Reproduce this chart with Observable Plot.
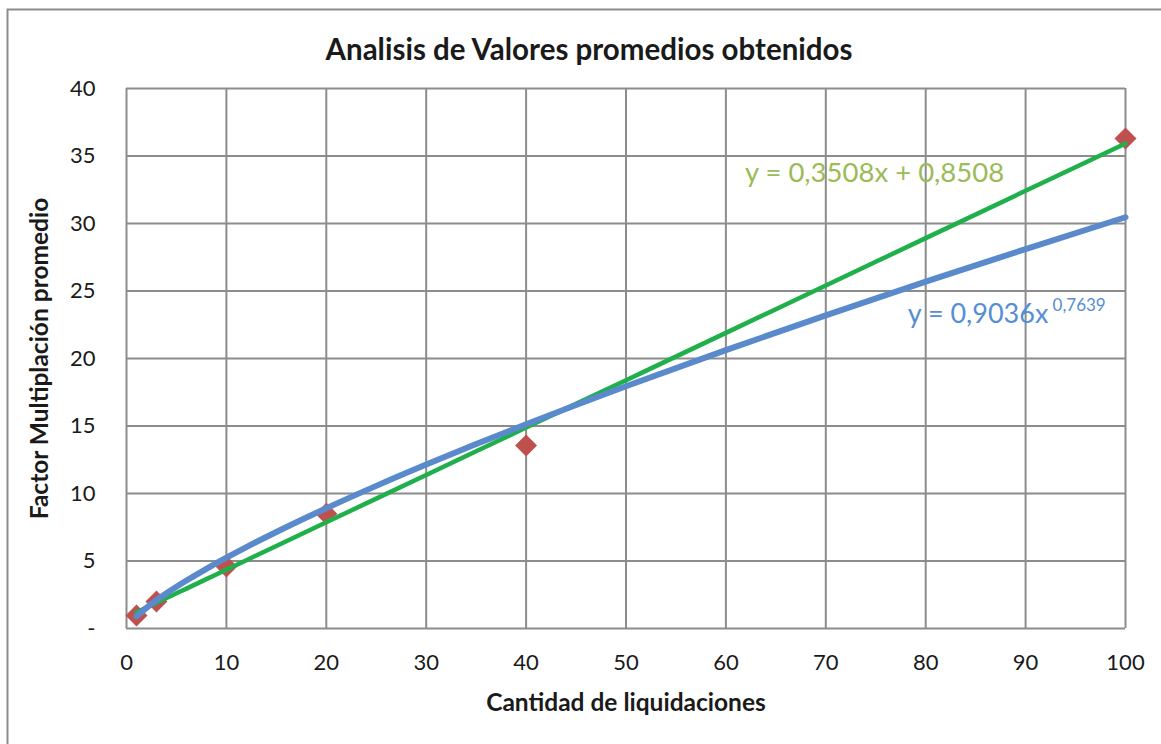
<!DOCTYPE html>
<html>
<head>
<meta charset="utf-8">
<script src="https://cdn.jsdelivr.net/npm/d3@7"></script>
<script src="https://cdn.jsdelivr.net/npm/@observablehq/plot@0.6"></script>
<style>
  html, body { margin: 0; padding: 0; background: #fff; }
  #chart { width: 1161px; height: 744px; overflow: hidden; }
</style>
</head>
<body>
<div id="chart"></div>
<script>
// ---- data ----
const liquidaciones = [1, 3, 10, 20, 40, 100];
const factorPromedio = [0.96, 2.0, 4.6, 8.5, 13.55, 36.3];

// trendline coefficients as printed on the chart
const linearCoef = [0.3508, 0.8508];      // y = a·x + b
const powerCoef = [0.9036, 0.7639];       // y = a·x^b
const trendX = [1, 2, 3, 4, 5, 6, 8, 10, 12, 15, 20, 25, 30, 35, 40, 45, 50, 60, 70, 80, 90, 100];

const xTicks = [0, 10, 20, 30, 40, 50, 60, 70, 80, 90, 100];
const yTicks = [0, 5, 10, 15, 20, 25, 30, 35, 40];
const yTickLabels = ["-", "5", "10", "15", "20", "25", "30", "35", "40"];

const titleText = "Analisis de Valores promedios obtenidos";
const xTitle = "Cantidad de liquidaciones";
const yTitle = "Factor Multiplación promedio";
const linearLabel = "y = 0,3508x + 0,8508";
const powerLabel = "y = 0,9036x";
const powerExp = "0,7639";

// ---- derived tables ----
const points = liquidaciones.map((x, i) => ({x, y: factorPromedio[i]}));
const linearLine = trendX.map(x => ({x, y: linearCoef[0] * x + linearCoef[1]}));
const powerLine = trendX.map(x => ({x, y: powerCoef[0] * Math.pow(x, powerCoef[1])}));

const gridColor = "#8c8c8c";
const font = "Lato, 'Open Sans', sans-serif";

const chart = Plot.plot({
  width: 1161,
  height: 744,
  marginLeft: 126,
  marginRight: 36,
  marginTop: 88,
  marginBottom: 116,
  style: {fontFamily: font, fontSize: "22px", color: "#1a1a1a", background: "#fff"},
  x: {domain: [0, 100], ticks: xTicks},
  y: {domain: [0, 40], ticks: yTicks},
  marks: [
    Plot.gridX(xTicks, {stroke: gridColor, strokeOpacity: 1, strokeWidth: 2}),
    Plot.gridY(yTicks, {stroke: gridColor, strokeOpacity: 1, strokeWidth: 2}),
    Plot.axisX(xTicks, {tickSize: 0, tickPadding: 26, fontSize: 22, label: null}),
    Plot.axisY(yTicks, {tickSize: 0, tickPadding: 31, fontSize: 22, label: null,
      tickFormat: d => yTickLabels[yTicks.indexOf(d)]}),
    Plot.dot(points, {x: "x", y: "y", symbol: "diamond2", r: 9.9, fill: "#c0504d", stroke: "none"}),
    Plot.line(linearLine, {x: "x", y: "y", stroke: "#1fb04b", strokeWidth: 4.5, curve: "monotone-x"}),
    Plot.line(powerLine, {x: "x", y: "y", stroke: "#5a8acb", strokeWidth: 6, curve: "monotone-x"}),
    Plot.text([linearLabel], {x: 61.9, y: 33.7, textAnchor: "start", fill: "#9bbb59", fontSize: 27.5}),
    Plot.text([powerLabel], {x: 78.2, y: 23.3, textAnchor: "start", fill: "#558ed5", fontSize: 27}),
    Plot.text([powerExp], {x: 92.7, y: 23.9, textAnchor: "start", fill: "#558ed5", fontSize: 17}),
    Plot.text([titleText], {frameAnchor: "top", lineAnchor: "middle", textAnchor: "middle", dx: -37, dy: -38, fontSize: 29.5, fontWeight: "bold", fill: "#1a1a1a"}),
    Plot.text([xTitle], {frameAnchor: "bottom", lineAnchor: "middle", textAnchor: "middle", dy: 75, fontSize: 24.5, fontWeight: "bold", fill: "#1a1a1a"}),
    Plot.text([yTitle], {frameAnchor: "left", lineAnchor: "middle", textAnchor: "middle", dx: -86, rotate: -90, fontSize: 24.5, fontWeight: "bold", fill: "#1a1a1a"})
  ]
});

// outer chart border (only its top and left edges fall inside the picture)
d3.select(chart).insert("rect", ":first-child")
  .attr("x", 7.5).attr("y", 9.5).attr("width", 1300).attr("height", 900)
  .attr("fill", "#fff").attr("stroke", gridColor).attr("stroke-width", 2);

document.getElementById("chart").appendChild(chart);
</script>
</body>
</html>
